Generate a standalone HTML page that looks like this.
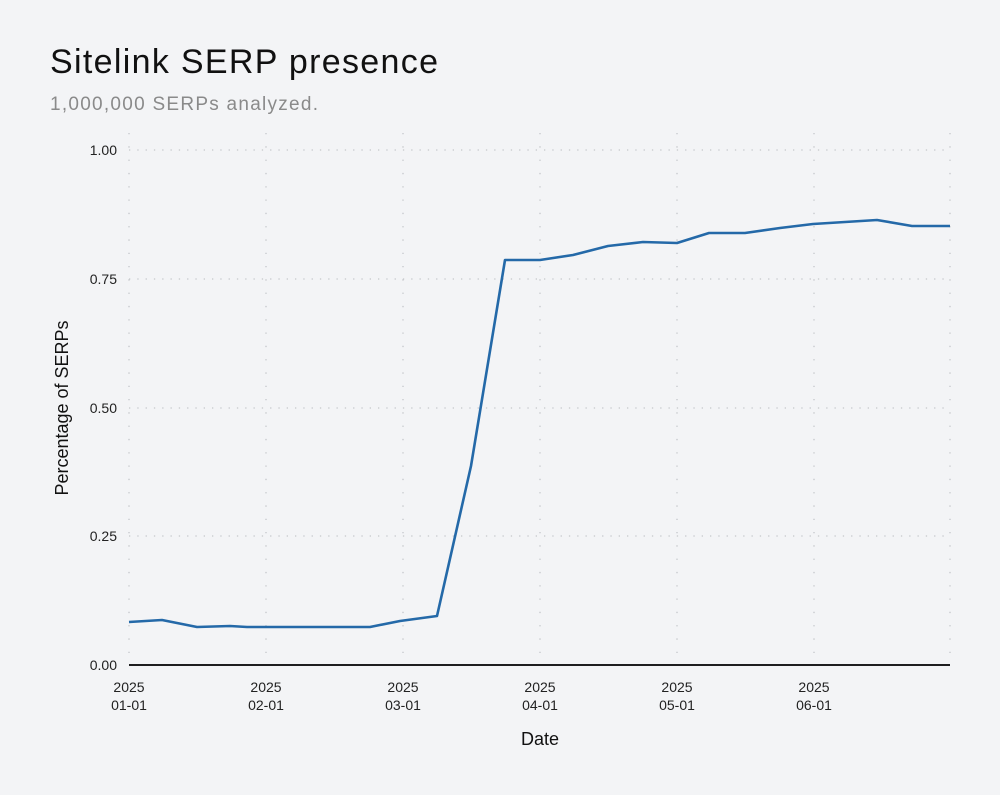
<!DOCTYPE html>
<html><head><meta charset="utf-8"><style>
html,body{margin:0;padding:0;background:#f3f4f6;}
body{width:1000px;height:790px;overflow:hidden;font-family:"Liberation Sans",sans-serif;}
</style></head><body>
<svg width="1000" height="790" viewBox="0 0 1000 790" xmlns="http://www.w3.org/2000/svg" font-family="Liberation Sans, sans-serif">
<rect width="1000" height="790" fill="#f3f4f6"/>
<text x="50" y="73" font-size="34" fill="#111" textLength="388">Sitelink SERP presence</text>
<text x="50" y="110" font-size="19" fill="#8a8a8a" textLength="268">1,000,000 SERPs analyzed.</text>
<g stroke="#c4c6ca" stroke-width="1.3" stroke-dasharray="1.3 12" fill="none">
<line x1="129" y1="133" x2="129" y2="665"/>
<line x1="266" y1="133" x2="266" y2="665"/>
<line x1="403" y1="133" x2="403" y2="665"/>
<line x1="540" y1="133" x2="540" y2="665"/>
<line x1="677" y1="133" x2="677" y2="665"/>
<line x1="814" y1="133" x2="814" y2="665"/>
<line x1="950" y1="133" x2="950" y2="665"/>
</g>
<g stroke="#c4c6ca" stroke-width="1.3" stroke-dasharray="1.3 7" fill="none">
<line x1="129" y1="150" x2="950" y2="150"/>
<line x1="129" y1="279" x2="950" y2="279"/>
<line x1="129" y1="408" x2="950" y2="408"/>
<line x1="129" y1="536" x2="950" y2="536"/>
</g>
<line x1="129" y1="665" x2="950" y2="665" stroke="#000" stroke-width="1.8"/>
<g font-size="14" fill="#222" text-anchor="end">
<text x="117" y="155">1.00</text>
<text x="117" y="284">0.75</text>
<text x="117" y="413">0.50</text>
<text x="117" y="541">0.25</text>
<text x="117" y="670">0.00</text>
</g>
<g font-size="14" fill="#222" text-anchor="middle">
<text x="129" y="692">2025</text><text x="129" y="710">01-01</text>
<text x="266" y="692">2025</text><text x="266" y="710">02-01</text>
<text x="403" y="692">2025</text><text x="403" y="710">03-01</text>
<text x="540" y="692">2025</text><text x="540" y="710">04-01</text>
<text x="677" y="692">2025</text><text x="677" y="710">05-01</text>
<text x="814" y="692">2025</text><text x="814" y="710">06-01</text>
</g>
<text x="540" y="745" font-size="18" fill="#111" text-anchor="middle">Date</text>
<text transform="translate(68,408) rotate(-90)" font-size="18" fill="#111" text-anchor="middle">Percentage of SERPs</text>
<polyline fill="none" stroke="#2469a8" stroke-width="2.6" stroke-linejoin="round"
points="129,622 162,620 197,627 230,626 247,627 370,627 400,621 437,616 471,466 505,260 540,260 573,255 608,246 643,242 677,243 709,233 745,233 780,228 813,224 877,220 912,226 950,226"/>
</svg>
</body></html>
